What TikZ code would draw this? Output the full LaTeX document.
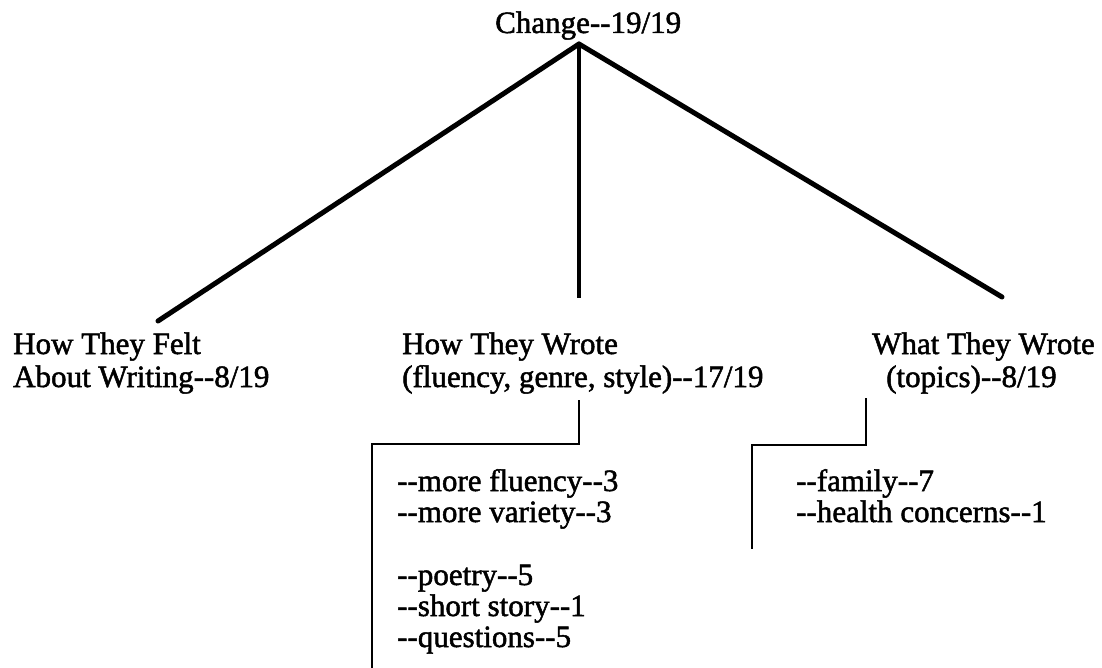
\documentclass[tikz,border=0pt]{standalone}
\usepackage{fontspec}
\setmainfont{Liberation Serif}[Ligatures=TeXOff, FakeBold=1.6]
\begin{document}
\begin{tikzpicture}[x=1pt, y=-1pt,
  lbl/.style={anchor=base west, inner sep=0pt, font=\fontsize{31}{33}\selectfont},
  trunk/.style={line width=5pt, line cap=round},
  stem/.style={line width=4pt},
  bracket/.style={line width=2.6pt, line join=miter}]
\useasboundingbox (0,0) rectangle (1102,668);

% root
\node[lbl] (change) at (495,33) {Change--19/19};
\coordinate (apex) at (579,44);

% three branches
\node[lbl] (felt1)  at (13,354)  {How They Felt};
\node[lbl] (felt2)  at (13,387)  {About Writing--8/19};
\node[lbl] (how1)   at (402,354) {How They Wrote};
\node[lbl] (how2)   at (402,387) {(fluency, genre, style)--17/19};
\node[lbl] (what1)  at (872,354) {What They Wrote};
\node[lbl] (what2)  at (886,387) {(topics)--8/19};

\coordinate (feltend) at (158,321);
\coordinate (howend)  at (579,298);
\coordinate (whatend) at (1002,297);

\draw[trunk] (apex) -- (feltend);
\draw[trunk] (apex) -- (whatend);
\draw[stem]  (apex) -- (howend);

% details under "How They Wrote"
\node[lbl] (h1) at (397,491) {--more fluency--3};
\node[lbl] (h2) at (397,522) {--more variety--3};
\node[lbl] (h3) at (397,585) {--poetry--5};
\node[lbl] (h4) at (397,616) {--short story--1};
\node[lbl] (h5) at (397,647) {--questions--5};

\coordinate (hb1) at (579,400);
\coordinate (hb2) at (579,444);
\coordinate (hb3) at (372,444);
\coordinate (hb4) at (372,668);
\draw[bracket] (hb1) -- (hb2) -- (hb3) -- (hb4);

% details under "What They Wrote"
\node[lbl] (w1) at (796,491) {--family--7};
\node[lbl] (w2) at (796,522) {--health concerns--1};

\coordinate (wb1) at (866,398);
\coordinate (wb2) at (866,445);
\coordinate (wb3) at (752,445);
\coordinate (wb4) at (752,549);
\draw[bracket] (wb1) -- (wb2) -- (wb3) -- (wb4);
\end{tikzpicture}
\end{document}
